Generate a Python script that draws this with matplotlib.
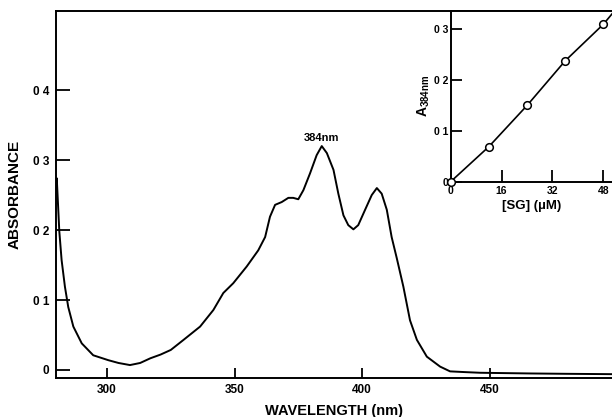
import matplotlib
matplotlib.use("Agg")
import matplotlib.pyplot as plt

plt.rcParams['font.family'] = ['Liberation Sans', 'DejaVu Sans']
plt.rcParams['font.weight'] = 'bold'
plt.rcParams['mathtext.fontset'] = 'custom'
plt.rcParams['mathtext.rm'] = 'Liberation Sans:bold'
plt.rcParams['mathtext.bf'] = 'Liberation Sans:bold'
plt.rcParams['mathtext.it'] = 'Liberation Sans:bold'

# Main spectrum (wavelength nm, absorbance)
wavelength = [280, 280.3, 281.3, 282.2, 283.5, 284.8, 286.8, 290.1, 294.6, 300.5, 304.5, 309,
              313, 317, 321, 325, 330, 336.5, 341.7, 345.6, 349.5, 354.8, 359.3, 362,
              363.9, 365.9, 368.5, 371.1, 373, 375, 377, 379.6, 382.2, 384.2, 386.2,
              388.8, 390.7, 392.7, 394.6, 396.6, 398.5, 401.2, 403.8, 405.8, 407.7,
              409.7, 411.6, 413.6, 416.2, 418.8, 421.5, 425.4, 430.6, 434.5, 440,
              446.3, 456, 466, 480, 498]
absorbance = [0.262, 0.274, 0.198, 0.157, 0.119, 0.090, 0.062, 0.038, 0.021, 0.014, 0.010,
              0.007, 0.010, 0.0167, 0.022, 0.0286, 0.043, 0.062, 0.0857, 0.110, 0.124,
              0.148, 0.171, 0.190, 0.219, 0.236, 0.240, 0.246, 0.246, 0.244, 0.257,
              0.281, 0.307, 0.320, 0.310, 0.286, 0.252, 0.221, 0.207, 0.201, 0.207,
              0.229, 0.250, 0.260, 0.252, 0.229, 0.190, 0.160, 0.119, 0.071, 0.043,
              0.019, 0.0048, -0.002, -0.003, -0.004, -0.0045, -0.005, -0.0055, -0.006]

x_ticks = [300, 350, 400, 450]
x_ticklabels = ['300', '350', '400', '450']
y_ticks = [0, 0.1, 0.2, 0.3, 0.4]
y_ticklabels = ['0', '0 1', '0 2', '0 3', '0 4']

# Inset: [SG] (uM) vs A384nm
sg_conc = [0, 12, 24, 36, 48]
a384 = [0.0, 0.069, 0.150, 0.238, 0.310]
fit_x = [0, 12, 24, 36, 48, 52]
fit_y = [0.0, 0.069, 0.150, 0.238, 0.310, 0.340]
inset_xticks = [0, 16, 32, 48]
inset_xticklabels = ['0', '16', '32', '48']
inset_yticks = [0, 0.1, 0.2, 0.3]
inset_yticklabels = ['0', '0 1', '0 2', '0 3']

fig = plt.figure(figsize=(6.12, 4.17), dpi=100)
ax = fig.add_axes([0.0915, 0.0935, 0.9085, 0.880])
ax.plot(wavelength, absorbance, color='black', lw=1.4, solid_joinstyle='round')
ax.set_xlim(280, 498)
ax.set_ylim(-0.0115, 0.513)
ax.set_xticks(x_ticks)
ax.set_xticklabels(x_ticklabels)
ax.set_yticks(y_ticks)
ax.set_yticklabels(y_ticklabels)
ax.tick_params(axis='x', direction='in', length=7, width=1.3, labelsize=8.5, pad=4)
ax.tick_params(axis='y', direction='in', length=10, width=1.3, labelsize=8.5, pad=5)
for s in ['left', 'bottom', 'top']:
    ax.spines[s].set_linewidth(1.4)
ax.spines['right'].set_visible(False)
ax.set_xlabel('WAVELENGTH (nm)', fontsize=10.5, fontweight='bold', labelpad=6)
ax.set_ylabel('ABSORBANCE', fontsize=11, fontweight='bold', labelpad=8)
ax.annotate('384nm', xy=(384.2, 0.320), xytext=(0, 2), textcoords='offset points',
            ha='center', va='bottom', fontsize=8, fontweight='bold')

ins = fig.add_axes([0.7364, 0.5643, 0.2636, 0.4093])
ins.plot(fit_x, fit_y, color='black', lw=1.2)
ins.plot(sg_conc, a384, 'o', mfc='white', mec='black', mew=1.1, ms=5.5, clip_on=False, zorder=3)
ins.set_xlim(0, 50.7)
ins.set_ylim(0, 0.336)
ins.set_xticks(inset_xticks)
ins.set_xticklabels(inset_xticklabels)
ins.set_yticks(inset_yticks)
ins.set_yticklabels(inset_yticklabels)
ins.tick_params(axis='x', direction='in', length=9, width=1.3, labelsize=7.5, pad=3)
ins.tick_params(axis='y', direction='in', length=8, width=1.3, labelsize=7.5, pad=2)
for s in ['left', 'bottom', 'top']:
    ins.spines[s].set_linewidth(1.4)
ins.spines['right'].set_visible(False)
ins.set_xlabel('[SG] (\u00b5M)', fontsize=9.5, fontweight='bold', labelpad=3)
ins.set_ylabel(r'A$_{384nm}$', fontsize=10, fontweight='bold', labelpad=1)

fig.savefig('out.png', dpi=100)
